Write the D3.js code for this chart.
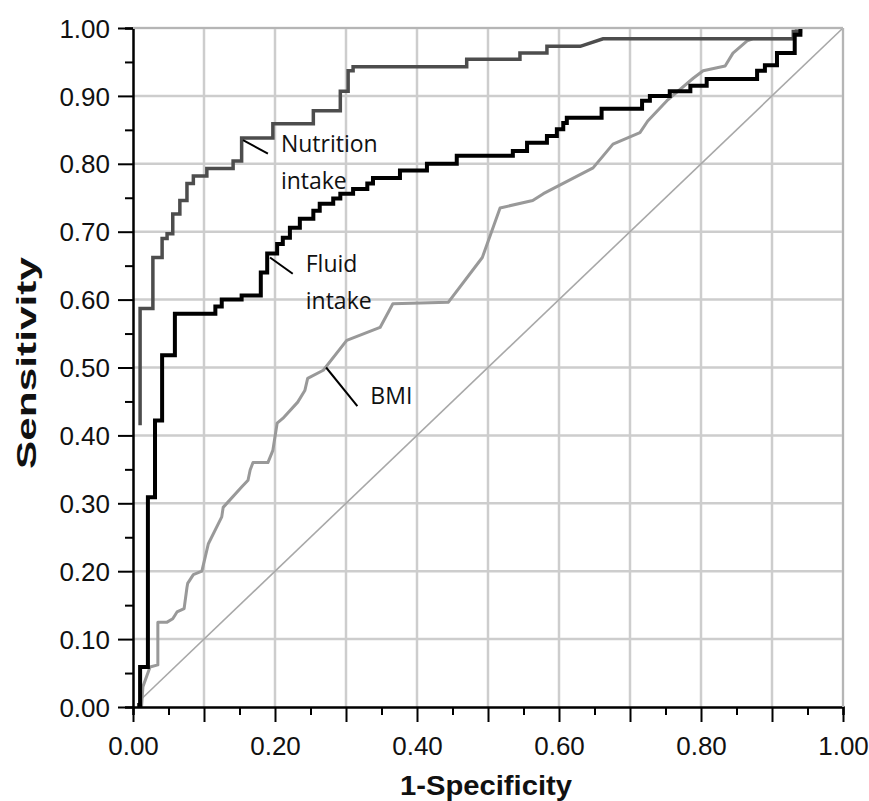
<!DOCTYPE html>
<html>
<head>
<meta charset="UTF-8">
<title>ROC curves</title>
<script src="https://d3js.org/d3.v7.min.js"></script>
<style>
  body { margin: 0; background: #fff; }
  svg { display: block; }
  .tick text { font-family: "Liberation Sans", Arial, sans-serif; font-size: 26px; fill: #111; }
  .axis-title { font-family: "Liberation Sans", Arial, sans-serif; font-size: 28px; font-weight: bold; fill: #111; }
  .note { font-family: "Open Sans", "Noto Sans", sans-serif; font-size: 23px; fill: #111; }
</style>
</head>
<body>
<svg id="chart" width="869" height="801"></svg>
<script>
// tick labels
const tickValues = [0, 0.1, 0.2, 0.3, 0.4, 0.5, 0.6, 0.7, 0.8, 0.9, 1.0];
const xTickLabels = ["0.00", "0.20", "0.40", "0.60", "0.80", "1.00"];

// ROC vertices (1-specificity, sensitivity)
const nutritionFpr = [0.010, 0.010, 0.028, 0.028, 0.041, 0.041, 0.048, 0.048, 0.056, 0.056, 0.066, 0.066, 0.076, 0.076, 0.085, 0.085, 0.104, 0.104, 0.141, 0.141, 0.153, 0.153, 0.197, 0.197, 0.254, 0.254, 0.292, 0.292, 0.303, 0.303, 0.310, 0.310, 0.470, 0.470, 0.545, 0.545, 0.583, 0.583, 0.630, 0.662, 0.930, 0.930, 0.940, 0.940];
const nutritionTpr = [0.415, 0.587, 0.587, 0.662, 0.662, 0.690, 0.690, 0.697, 0.697, 0.726, 0.726, 0.746, 0.746, 0.771, 0.771, 0.782, 0.782, 0.793, 0.793, 0.804, 0.804, 0.838, 0.838, 0.859, 0.859, 0.878, 0.878, 0.907, 0.907, 0.937, 0.937, 0.943, 0.943, 0.954, 0.954, 0.963, 0.963, 0.973, 0.973, 0.984, 0.984, 0.995, 0.995, 1.000];

const fluidFpr = [0.006, 0.010, 0.010, 0.021, 0.021, 0.031, 0.031, 0.041, 0.041, 0.059, 0.059, 0.116, 0.116, 0.125, 0.125, 0.153, 0.153, 0.180, 0.180, 0.189, 0.189, 0.203, 0.203, 0.211, 0.211, 0.221, 0.221, 0.235, 0.235, 0.254, 0.254, 0.263, 0.263, 0.282, 0.282, 0.292, 0.292, 0.310, 0.310, 0.330, 0.330, 0.338, 0.338, 0.376, 0.376, 0.414, 0.414, 0.456, 0.456, 0.535, 0.535, 0.555, 0.555, 0.583, 0.583, 0.597, 0.597, 0.606, 0.606, 0.611, 0.611, 0.660, 0.660, 0.717, 0.717, 0.728, 0.728, 0.756, 0.756, 0.785, 0.785, 0.808, 0.808, 0.879, 0.879, 0.890, 0.890, 0.907, 0.907, 0.932, 0.932, 0.940, 0.940];
const fluidTpr = [0.003, 0.003, 0.059, 0.059, 0.309, 0.309, 0.422, 0.422, 0.518, 0.518, 0.579, 0.579, 0.590, 0.590, 0.600, 0.600, 0.606, 0.606, 0.640, 0.640, 0.668, 0.668, 0.682, 0.682, 0.691, 0.691, 0.706, 0.706, 0.719, 0.719, 0.731, 0.731, 0.741, 0.741, 0.749, 0.749, 0.756, 0.756, 0.763, 0.763, 0.771, 0.771, 0.779, 0.779, 0.790, 0.790, 0.800, 0.800, 0.812, 0.812, 0.819, 0.819, 0.831, 0.831, 0.841, 0.841, 0.851, 0.851, 0.860, 0.860, 0.868, 0.868, 0.881, 0.881, 0.893, 0.893, 0.900, 0.900, 0.907, 0.907, 0.915, 0.915, 0.925, 0.925, 0.937, 0.937, 0.945, 0.945, 0.963, 0.963, 0.990, 0.990, 1.000];

const bmiFpr = [0.012, 0.014, 0.024, 0.035, 0.035, 0.048, 0.056, 0.062, 0.072, 0.076, 0.077, 0.085, 0.097, 0.106, 0.125, 0.127, 0.153, 0.162, 0.165, 0.169, 0.190, 0.197, 0.203, 0.211, 0.232, 0.242, 0.246, 0.268, 0.301, 0.348, 0.366, 0.444, 0.492, 0.517, 0.563, 0.578, 0.648, 0.676, 0.714, 0.725, 0.752, 0.789, 0.803, 0.834, 0.845, 0.865, 0.873, 0.930, 0.935];
const bmiTpr = [0.000, 0.030, 0.059, 0.062, 0.125, 0.125, 0.130, 0.140, 0.145, 0.176, 0.182, 0.195, 0.200, 0.240, 0.280, 0.294, 0.324, 0.334, 0.349, 0.360, 0.360, 0.378, 0.418, 0.425, 0.449, 0.466, 0.484, 0.496, 0.540, 0.559, 0.594, 0.596, 0.662, 0.735, 0.746, 0.756, 0.794, 0.829, 0.846, 0.863, 0.893, 0.926, 0.937, 0.944, 0.963, 0.981, 0.984, 0.984, 1.000];

const refFpr = [0.01, 1.0];
const refTpr = [0.01, 1.0];

const margin = {top: 28, right: 26, bottom: 94, left: 133};
const svg = d3.select("#chart");
const width = +svg.attr("width") - margin.left - margin.right;
const height = +svg.attr("height") - margin.top - margin.bottom;

const x = d3.scaleLinear().domain([0, 1]).range([0, width]);
const y = d3.scaleLinear().domain([0, 1]).range([height, 0]);

const g = svg.append("g").attr("transform", `translate(${margin.left},${margin.top})`);

// grid
g.append("g").selectAll("line.v").data(tickValues.slice(1)).join("line")
  .attr("x1", d => x(d)).attr("x2", d => x(d)).attr("y1", 0).attr("y2", height)
  .attr("stroke", "#cdcdcd").attr("stroke-width", 2.5);
g.append("g").selectAll("line.h").data(tickValues.slice(1)).join("line")
  .attr("x1", 0).attr("x2", width).attr("y1", d => y(d)).attr("y2", d => y(d))
  .attr("stroke", "#cdcdcd").attr("stroke-width", 2.5);

const line = d3.line().x(d => x(d[0])).y(d => y(d[1]));
const zip = (a, b) => a.map((v, i) => [v, b[i]]);

g.append("path").datum(zip(refFpr, refTpr)).attr("d", line)
  .attr("fill", "none").attr("stroke", "#a8a8a8").attr("stroke-width", 1.6);
g.append("path").datum(zip(bmiFpr, bmiTpr)).attr("d", line)
  .attr("fill", "none").attr("stroke", "#999").attr("stroke-width", 3).attr("stroke-linejoin", "round");
g.append("path").datum(zip(nutritionFpr, nutritionTpr)).attr("d", line)
  .attr("fill", "none").attr("stroke", "#4d4d4d").attr("stroke-width", 3.5);
g.append("path").datum(zip(fluidFpr, fluidTpr)).attr("d", line)
  .attr("fill", "none").attr("stroke", "#000").attr("stroke-width", 4);

// axes
const minor = d3.range(0, 1.0001, 0.05);
const xAxis = g.append("g").attr("transform", `translate(0,${height})`)
  .call(d3.axisBottom(x).tickValues(minor).tickSize(8).tickFormat(""));
xAxis.selectAll(".tick line").filter((d, i) => i % 2 === 0).attr("y2", 15);
xAxis.selectAll(".tick").filter((d, i) => i % 4 === 0).append("text")
  .attr("y", 48).attr("text-anchor", "middle").text((d, i) => xTickLabels[i]);

const yAxis = g.append("g")
  .call(d3.axisLeft(y).tickValues(minor).tickSize(8).tickFormat(""));
yAxis.selectAll(".tick line").filter((d, i) => i % 2 === 0).attr("x2", -15);
yAxis.selectAll(".tick").filter((d, i) => i % 2 === 0).append("text")
  .attr("x", -23).attr("dy", "0.35em").attr("text-anchor", "end").text(d => d.toFixed(2));

svg.selectAll(".domain").attr("stroke", "#000").attr("stroke-width", 2.5);
svg.selectAll(".tick line").attr("stroke", "#000").attr("stroke-width", 2);

// right and top border of plot
g.append("line").attr("x1", width).attr("x2", width).attr("y1", 0).attr("y2", height)
  .attr("stroke", "#b5b5b5").attr("stroke-width", 2);
g.append("line").attr("x1", 0).attr("x2", width).attr("y1", 0).attr("y2", 0)
  .attr("stroke", "#b5b5b5").attr("stroke-width", 2);

// titles
svg.append("text").attr("class", "axis-title").attr("text-anchor", "middle")
  .attr("x", 486).attr("y", 795)
  .attr("textLength", 172).attr("lengthAdjust", "spacingAndGlyphs").text("1-Specificity");
svg.append("text").attr("class", "axis-title").attr("text-anchor", "middle")
  .attr("transform", `translate(36,363) rotate(-90)`)
  .attr("textLength", 212).attr("lengthAdjust", "spacingAndGlyphs").text("Sensitivity");

// callouts
const notes = [
  {lines: ["Nutrition", "intake"], fx: 0.155, fy: 0.835, tx: 0.19, ty: 0.815},
  {lines: ["Fluid", "intake"], fx: 0.193, fy: 0.662, tx: 0.225, ty: 0.638},
  {lines: ["BMI"], fx: 0.272, fy: 0.50, tx: 0.316, ty: 0.443}
];
notes.forEach(n => {
  g.append("line").attr("x1", x(n.fx)).attr("y1", y(n.fy)).attr("x2", x(n.tx)).attr("y2", y(n.ty))
    .attr("stroke", "#000").attr("stroke-width", 2);
  const t = g.append("text").attr("class", "note").attr("x", x(n.tx) + 13).attr("y", y(n.ty) - 2);
  n.lines.forEach((s, i) => t.append("tspan").attr("x", x(n.tx) + 13).attr("dy", i === 0 ? 0 : 37).text(s));
});
</script>
</body>
</html>
